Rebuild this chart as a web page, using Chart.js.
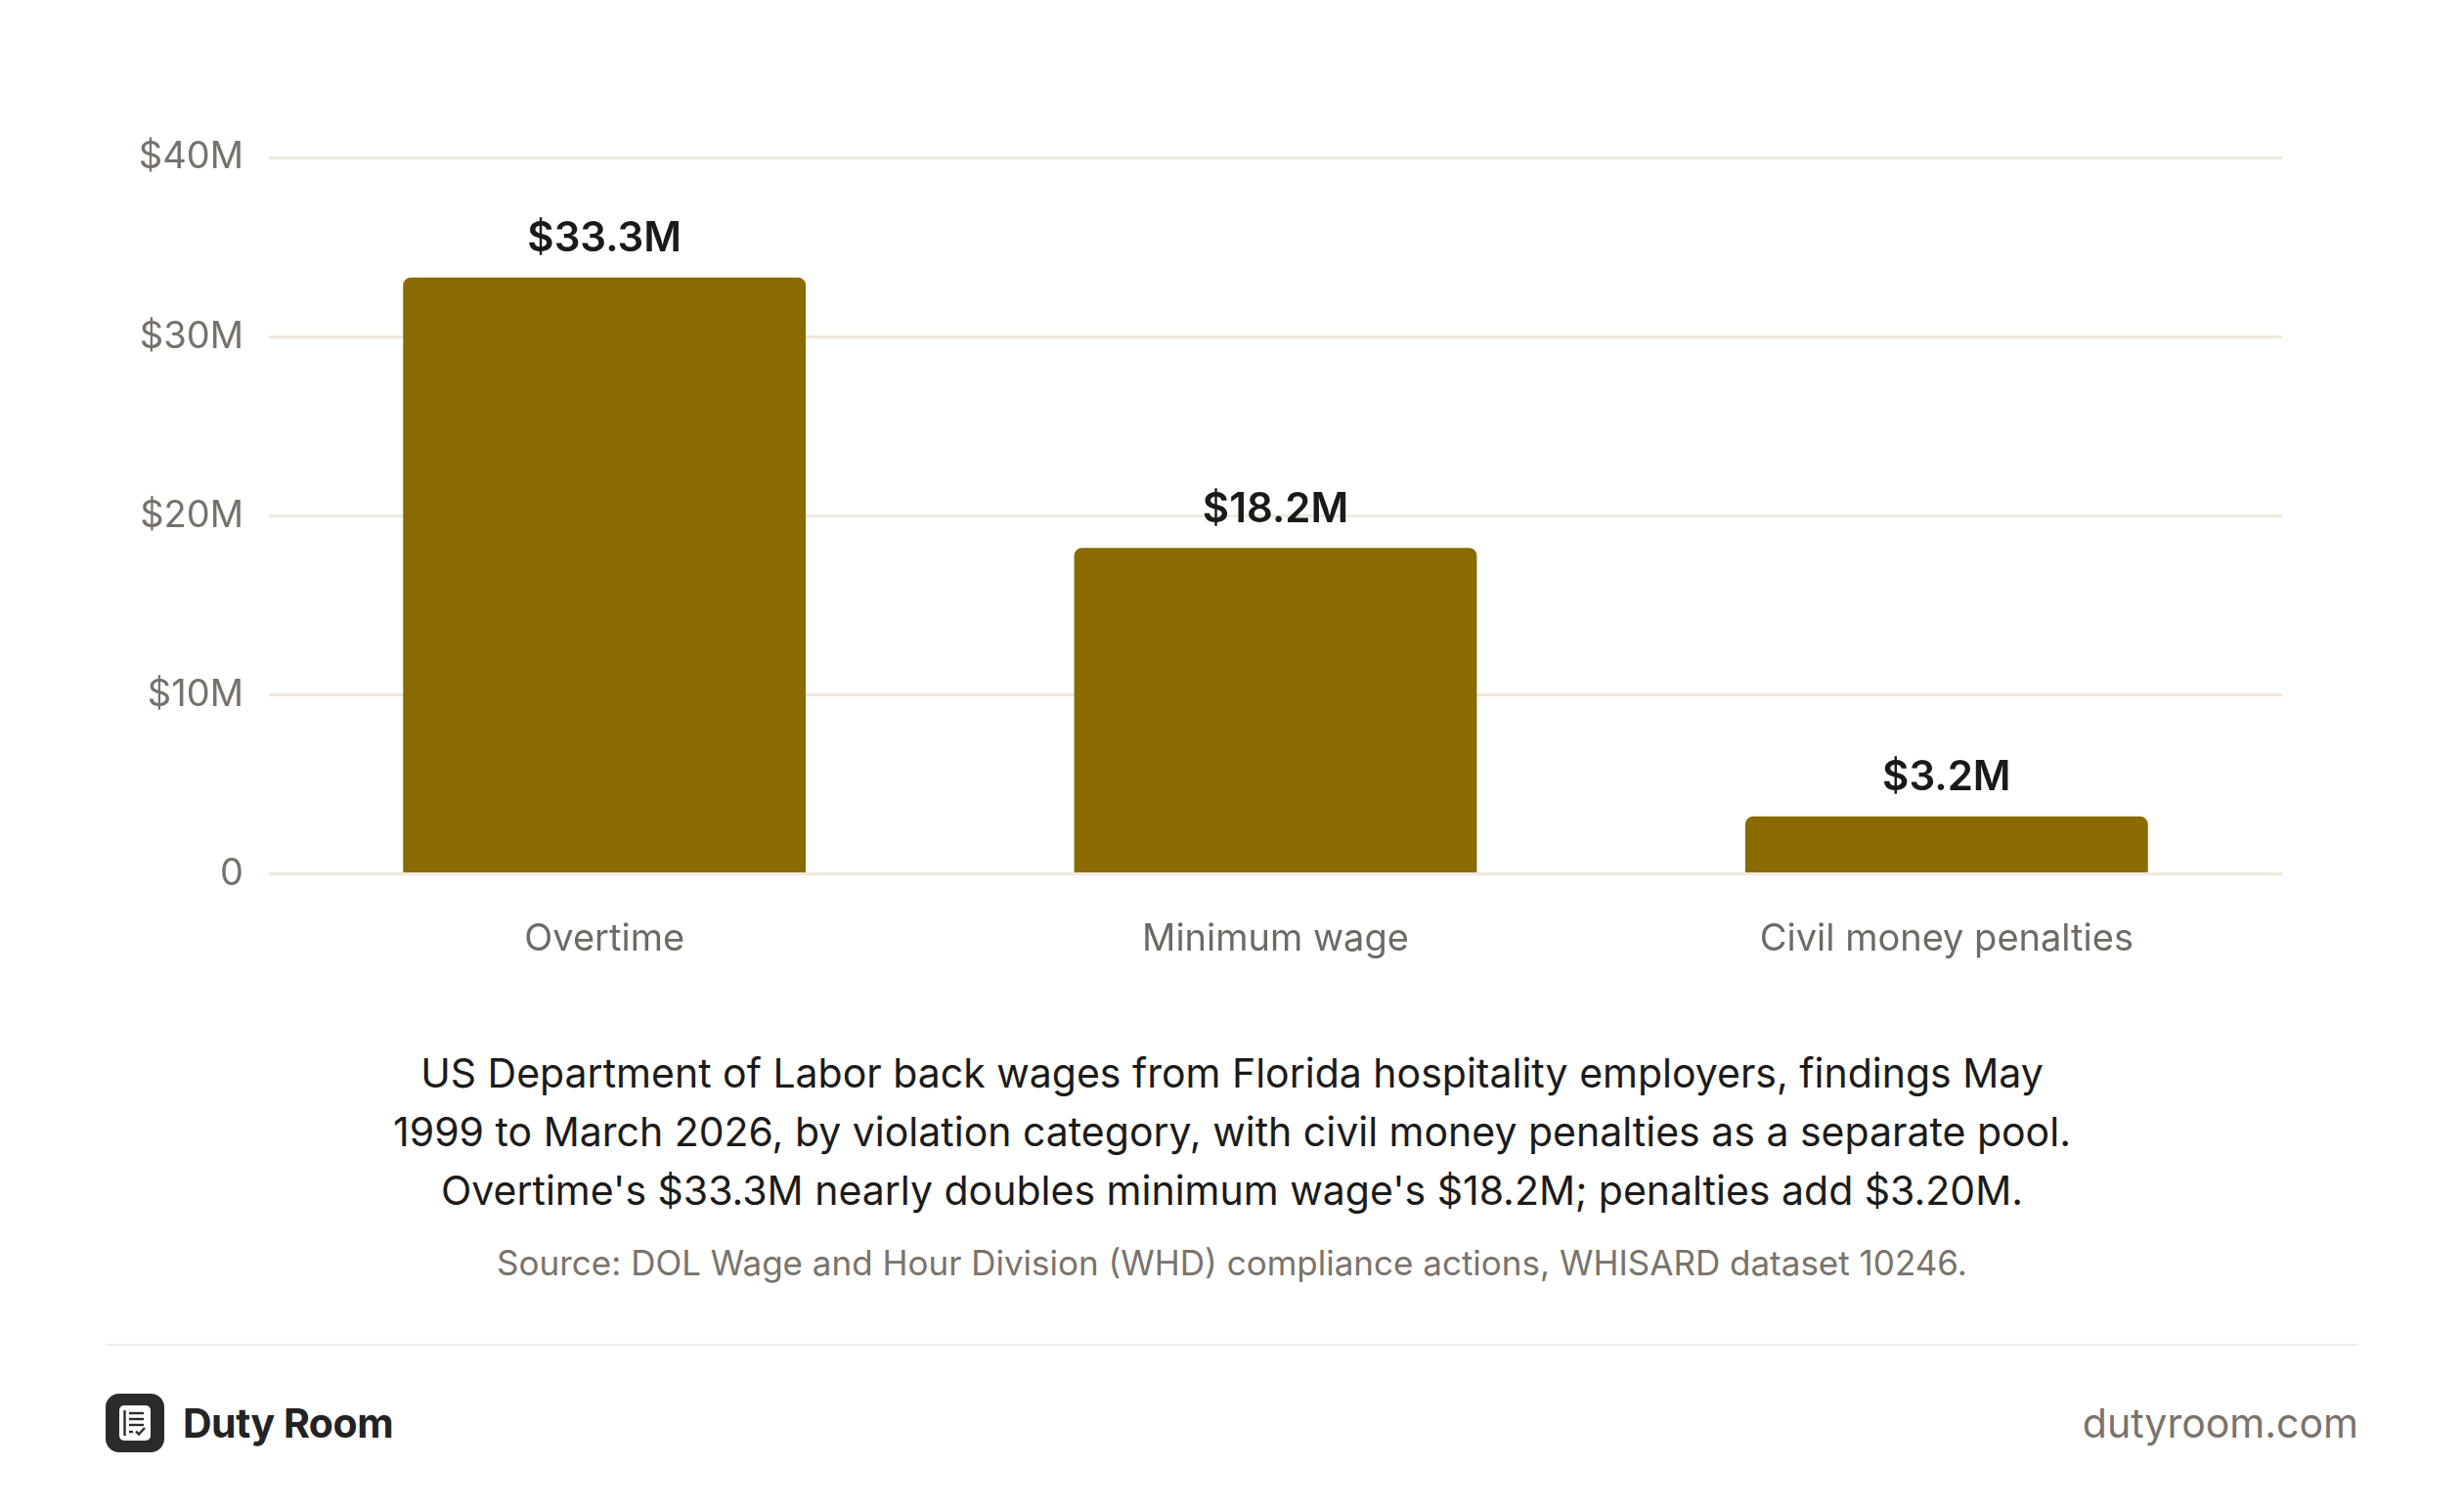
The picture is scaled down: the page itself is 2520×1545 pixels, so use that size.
<!DOCTYPE html>
<html>
<head>
<meta charset="utf-8">
<script src="https://cdn.jsdelivr.net/npm/chart.js@4.4.1/dist/chart.umd.min.js"></script>
<style>
  html, body { margin: 0; padding: 0; background: #fff; }
  body { width: 2520px; height: 1545px; position: relative; overflow: hidden; font-family: Inter, "Noto Sans", sans-serif; }
  #chartBox { position: absolute; left: 0; top: 0; width: 2520px; height: 1053px; }
  .caption { position: absolute; left: 0; width: 2520px; top: 1067px; text-align: center; font-size: 41px; line-height: 60px; color: #1c1b1a; }
  .source { position: absolute; left: 0; width: 2520px; top: 1270px; text-align: center; font-size: 35px; color: #7a736c; }
  .rule { position: absolute; left: 108px; width: 2304px; top: 1374px; height: 2px; background: #f0eeea; }
  .brand { position: absolute; left: 108px; top: 1425px; height: 60px; display: flex; align-items: center; }
  .brand span { margin-left: 19px; font-size: 41px; font-weight: 700; color: #232323; letter-spacing: -0.5px; }
  .site { position: absolute; right: 108px; top: 1425px; height: 60px; line-height: 60px; font-size: 41px; color: #7a736c; }
</style>
</head>
<body>
<div id="chartBox"><canvas id="barChart"></canvas></div>

<div class="caption">US Department of Labor back wages from Florida hospitality employers, findings May<br>1999 to March 2026, by violation category, with civil money penalties as a separate pool.<br>Overtime's $33.3M nearly doubles minimum wage's $18.2M; penalties add $3.20M.</div>
<div class="source">Source: DOL Wage and Hour Division (WHD) compliance actions, WHISARD dataset 10246.</div>
<div class="rule"></div>
<div class="brand">
  <svg width="60" height="60" viewBox="0 0 60 60">
    <rect x="0" y="0" width="60" height="60" rx="14" fill="#2b2b2b"/>
    <rect x="14" y="12" width="32" height="36" rx="5" fill="#fff"/>
    <line x1="19.5" y1="17" x2="19.5" y2="43" stroke="#2b2b2b" stroke-width="2.4"/>
    <line x1="24" y1="20" x2="39" y2="20" stroke="#2b2b2b" stroke-width="2.4"/>
    <line x1="24" y1="26" x2="39" y2="26" stroke="#2b2b2b" stroke-width="2.4"/>
    <line x1="24" y1="32" x2="39" y2="32" stroke="#2b2b2b" stroke-width="2.4"/>
    <line x1="24" y1="39" x2="28" y2="39" stroke="#2b2b2b" stroke-width="2.4"/>
    <polyline points="31,38.5 34,41.5 40,35" fill="none" stroke="#2b2b2b" stroke-width="2.4"/>
  </svg>
  <span>Duty Room</span>
</div>
<div class="site">dutyroom.com</div>

<script>
// values in $ millions
const categories = ['Overtime', 'Minimum wage', 'Civil money penalties'];
const backWages = [33.3, 18.2, 3.2];
const yTicks = [0, 10, 20, 30, 40];

const barColor = '#8b6a00';
const gridColor = '#efe9dc';

function money(v) {
    return v === 0 ? '0' : '$' + v + 'M';
}

// draw the $ labels over each bar
const valueLabels = {
    id: 'valueLabels',
    afterDatasetsDraw(chart) {
        const ctx = chart.ctx;
        const meta = chart.getDatasetMeta(0);
        ctx.save();
        ctx.font = '600 42px Inter, "Noto Sans", sans-serif';
        ctx.fillStyle = '#1a1a1a';
        ctx.textAlign = 'center';
        ctx.textBaseline = 'bottom';
        meta.data.forEach((bar, i) => {
            ctx.fillText('$' + backWages[i].toFixed(1) + 'M', bar.x, bar.y - 18);
        });
        ctx.restore();
    }
};

const ctx = document.getElementById('barChart').getContext('2d');
const barChart = new Chart(ctx, {
    type: 'bar',
    data: {
        labels: categories,
        datasets: [{
            data: backWages,
            backgroundColor: barColor,
            borderRadius: { topLeft: 8, topRight: 8 },
            borderSkipped: 'bottom',
            categoryPercentage: 1,
            barPercentage: 0.6
        }]
    },
    options: {
        responsive: true,
        maintainAspectRatio: false,
        animation: false,
        devicePixelRatio: 1,
        layout: {
            padding: { top: 161, right: 186, bottom: 26, left: 0 }
        },
        plugins: {
            legend: { display: false },
            tooltip: { enabled: false }
        },
        scales: {
            x: {
                grid: { display: false, drawTicks: false },
                border: { display: false },
                ticks: {
                    padding: 44,
                    color: '#6f6963',
                    font: { family: 'Inter, "Noto Sans", sans-serif', size: 38 }
                }
            },
            y: {
                min: 0,
                max: 40,
                afterFit(scale) { scale.width = 275; },
                afterBuildTicks(scale) { scale.ticks = yTicks.map(v => ({ value: v })); },
                grid: { color: gridColor, lineWidth: 3, drawTicks: false },
                border: { display: false },
                ticks: {
                    padding: 26,
                    color: '#77716b',
                    font: { family: 'Inter, "Noto Sans", sans-serif', size: 38 },
                    callback: v => money(v)
                }
            }
        }
    },
    plugins: [valueLabels]
});
</script>
</body>
</html>
